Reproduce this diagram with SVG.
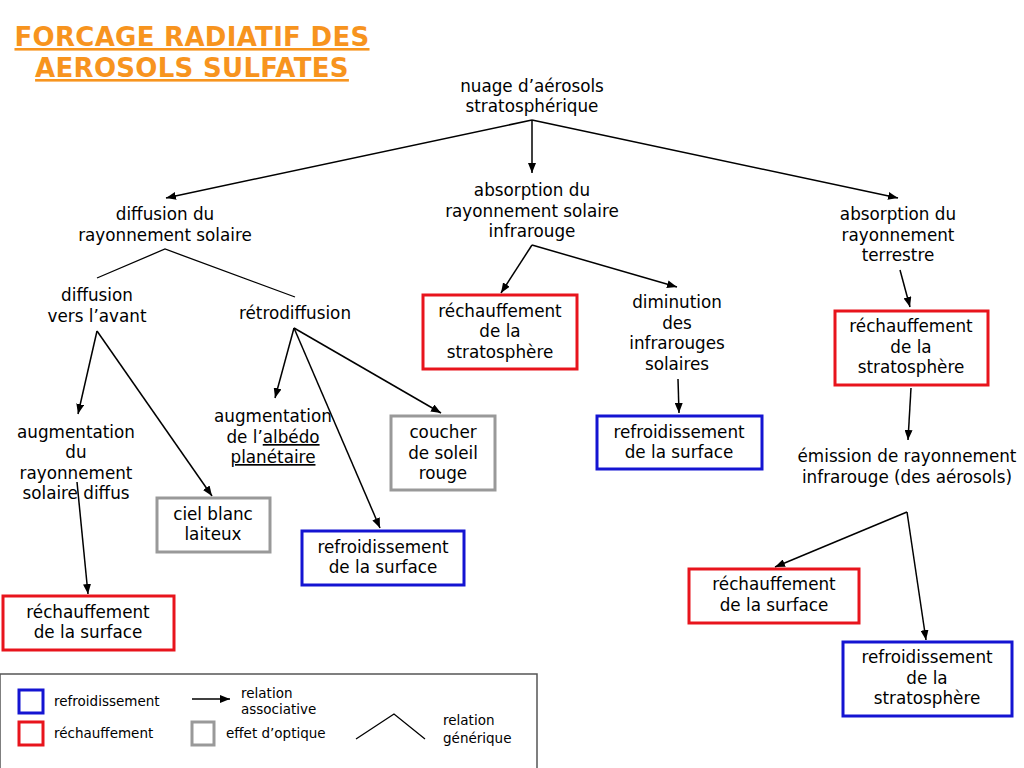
<svg xmlns="http://www.w3.org/2000/svg" width="1024" height="768" viewBox="0 0 1024 768">
<defs>
<marker id="ah" viewBox="0 0 10 8" refX="10" refY="4" markerWidth="10" markerHeight="8" markerUnits="userSpaceOnUse" orient="auto">
<path d="M0,0 L10,4 L0,8 Z" fill="#000"/>
</marker>
<style>
text{font-family:"DejaVu Sans","Verdana",sans-serif;font-size:16.8px;fill:#000;text-anchor:middle}
.t{font-family:"DejaVu Sans",sans-serif;font-weight:bold;font-size:26px;letter-spacing:0.3px;fill:#f7941e;text-decoration:underline}
.lg{font-size:13.5px;text-anchor:start}
.a{fill:none;stroke:#000;stroke-width:1.5;marker-end:url(#ah)}
.g{fill:none;stroke:#000;stroke-width:1.3}
.red{fill:#fff;stroke:#e8141c;stroke-width:3}
.blue{fill:#fff;stroke:#1414d2;stroke-width:3}
.gray{fill:#fff;stroke:#999;stroke-width:3}
</style>
</defs>
<rect width="1024" height="768" fill="#fff"/>
<g id="title">
<text class="t" x="192" y="46">FORCAGE RADIATIF DES</text>
<text class="t" x="192" y="77">AEROSOLS SULFATES</text>
</g>
<g id="connectors">
<path class="a" d="M532,120 L166,198"/>
<path class="a" d="M532,120 L532,173"/>
<path class="a" d="M532,120 L898,198"/>
<path class="g" d="M97,278 L165,249 L295,297"/>
<path class="a" d="M97,331 L78,414"/>
<path class="a" d="M97,331 L212,496"/>
<path class="a" d="M77,482 L88,594"/>
<path class="a" d="M294,328 L275,398"/>
<path class="a" d="M294,328 L380,528"/>
<path class="a" d="M294,328 L441,413"/>
<path class="a" d="M532,245 L501,293"/>
<path class="a" d="M532,245 L677,287"/>
<path class="a" d="M678,379 L679,413"/>
<path class="a" d="M900,270 L910,307"/>
<path class="a" d="M911,388 L908,440"/>
<path class="a" d="M907,512 L775,567"/>
<path class="a" d="M907,512 L926,640"/>
</g>
<g id="n-nuage"><text x="532" y="92">nuage d’aérosols</text><text x="532" y="112">stratosphérique</text></g>
<g id="n-absinfra"><text x="532" y="196">absorption du</text><text x="532" y="217">rayonnement solaire</text><text x="532" y="237">infrarouge</text></g>
<g id="n-diffusion"><text x="165" y="220">diffusion du</text><text x="165" y="241">rayonnement solaire</text></g>
<g id="n-absterr"><text x="898" y="220">absorption du</text><text x="898" y="241">rayonnement</text><text x="898" y="261">terrestre</text></g>
<g id="n-avant"><text x="97" y="301">diffusion</text><text x="97" y="322">vers l’avant</text></g>
<g id="n-retro"><text x="295" y="319">rétrodiffusion</text></g>
<g id="n-augdiff"><text x="76" y="438">augmentation</text><text x="76" y="458">du</text><text x="76" y="479">rayonnement</text><text x="76" y="499">solaire diffus</text></g>
<g id="n-rechsurf1"><rect class="red" x="3" y="596" width="171" height="54"/><text x="88" y="618">réchauffement</text><text x="88" y="638">de la surface</text></g>
<g id="n-ciel"><rect class="gray" x="157" y="498" width="113" height="54"/><text x="213" y="520">ciel blanc</text><text x="213" y="540">laiteux</text></g>
<g id="n-albedo"><text x="273" y="422">augmentation</text><text x="273" y="443">de l’<tspan text-decoration="underline">albédo</tspan></text><text x="273" y="463" text-decoration="underline">planétaire</text></g>
<g id="n-coucher"><rect class="gray" x="391" y="416" width="104" height="74"/><text x="443" y="438">coucher</text><text x="443" y="459">de soleil</text><text x="443" y="479">rouge</text></g>
<g id="n-refrsurf1"><rect class="blue" x="302" y="531" width="162" height="54"/><text x="383" y="553">refroidissement</text><text x="383" y="573">de la surface</text></g>
<g id="n-rechstrat1"><rect class="red" x="423" y="295" width="154" height="74"/><text x="500" y="317">réchauffement</text><text x="500" y="337">de la</text><text x="500" y="358">stratosphère</text></g>
<g id="n-diminution"><text x="677" y="308">diminution</text><text x="677" y="329">des</text><text x="677" y="349">infrarouges</text><text x="677" y="370">solaires</text></g>
<g id="n-refrsurf2"><rect class="blue" x="597" y="416" width="165" height="53"/><text x="679" y="438">refroidissement</text><text x="679" y="458">de la surface</text></g>
<g id="n-rechstrat2"><rect class="red" x="835" y="311" width="153" height="74"/><text x="911" y="332">réchauffement</text><text x="911" y="353">de la</text><text x="911" y="373">stratosphère</text></g>
<g id="n-emission"><text x="907" y="462">émission de rayonnement</text><text x="907" y="483">infrarouge (des aérosols)</text></g>
<g id="n-rechsurf2"><rect class="red" x="689" y="569" width="170" height="54"/><text x="774" y="590">réchauffement</text><text x="774" y="611">de la surface</text></g>
<g id="n-refrstrat"><rect class="blue" x="843" y="642" width="169" height="74"/><text x="927" y="663">refroidissement</text><text x="927" y="684">de la</text><text x="927" y="704">stratosphère</text></g>
<g id="legend">
<rect x="0" y="674" width="537" height="98" fill="#fff" stroke="#555" stroke-width="1.5"/>
<rect class="blue" x="19" y="690" width="24" height="23"/>
<text class="lg" x="54" y="706">refroidissement</text>
<rect class="red" x="19" y="722" width="24" height="23"/>
<text class="lg" x="54" y="738">réchauffement</text>
<path class="a" d="M192,699 L230,699"/>
<text class="lg" x="241" y="698">relation</text>
<text class="lg" x="241" y="714">associative</text>
<rect class="gray" x="192" y="722" width="22" height="23"/>
<text class="lg" x="226" y="738">effet d’optique</text>
<path class="g" d="M356,739 L394,714 L425,739"/>
<text class="lg" x="443" y="725">relation</text>
<text class="lg" x="443" y="743">générique</text>
</g>
</svg>
